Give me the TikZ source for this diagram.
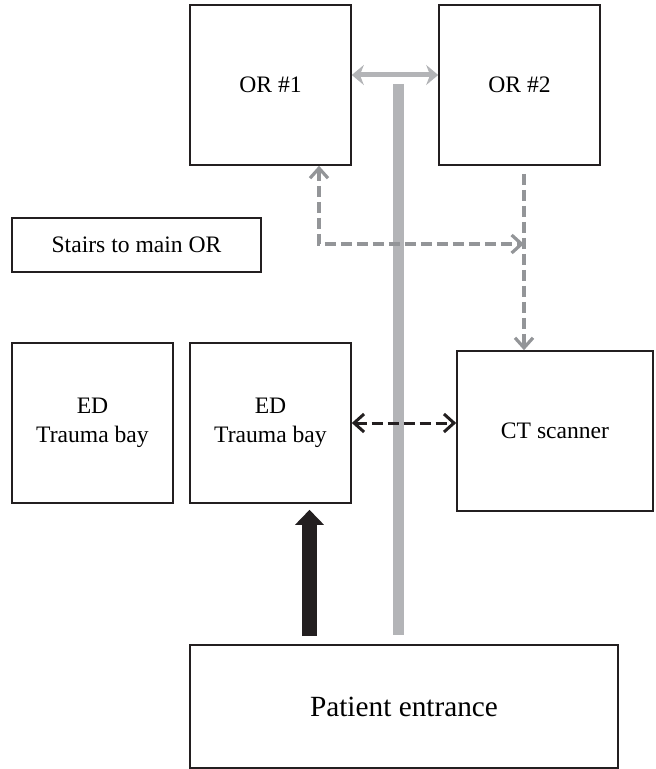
\documentclass[tikz,border=0pt]{standalone}
\usepackage{fontspec}
\setmainfont{Liberation Serif}
\usetikzlibrary{arrows.meta}
\definecolor{ink}{HTML}{231F20}
\definecolor{hallgray}{HTML}{B3B4B7}
\definecolor{routegray}{HTML}{939598}

\begin{document}
\begin{tikzpicture}[x=0.5pt,y=-0.5pt,
    room/.style={draw=ink,line width=0.8pt,minimum width=80.5pt,minimum height=80pt,
        align=center,inner sep=0pt,font=\fontsize{11.8}{14.2}\selectfont},
    barb/.style={line width=1.6pt,dash pattern=on 5.5pt off 2.5pt,
        >={Straight Barb[length=5pt,width=9pt]}},
    hall/.style={draw=hallgray,line width=5.5pt}]
        \useasboundingbox (0,0) rectangle (655,769);
        \node[room] (or1) at (270.5,85) {OR \#1};
        \node[room] (or2) at (519.5,85) {OR \#2};
        \node[room,minimum width=124.5pt,minimum height=27pt] (stairs) at (136.5,245) {Stairs to main OR};
        \node[room] (eda) at (92.5,423) {ED\\Trauma bay};
        \node[room] (edb) at (270.5,423) {ED\\Trauma bay};
        \node[room,minimum width=98pt] (ct) at (555,431) {CT scanner};
        \node[room,minimum width=214pt,minimum height=61.5pt,font=\fontsize{14.65}{17.5}\selectfont] (entrance) at (404,706.5) {Patient entrance};
        \coordinate (hallend) at (398.5,84);
        \coordinate (bend) at (319,244);
        \coordinate (drop) at (524,244);
        \coordinate (walkin) at (309.5,636);
        \draw[hall] (hallend) -- ([yshift=4.5pt]entrance.north -| hallend);
        \draw[hallgray,line width=2.5pt,{Stealth[length=6pt,width=10pt]}-{Stealth[length=6pt,width=10pt]}] ([yshift=5pt]or1.east) -- ([yshift=5pt]or2.west);
        \draw[barb,routegray,<->] (or1.south -| bend) -- (bend) -- (drop);
        \draw[barb,routegray,->] ([yshift=-4pt]or2.south -| drop) -- (ct.north -| drop);
        \draw[barb,ink,line width=1.5pt,<->] (edb.east) -- (edb.east -| ct.west);
        \draw[ink,line width=7.5pt,-{Triangle[length=7.5pt,width=14pt]}] (walkin) -- ([yshift=-3pt]edb.south -| walkin);
    \end{tikzpicture}
\end{document}
